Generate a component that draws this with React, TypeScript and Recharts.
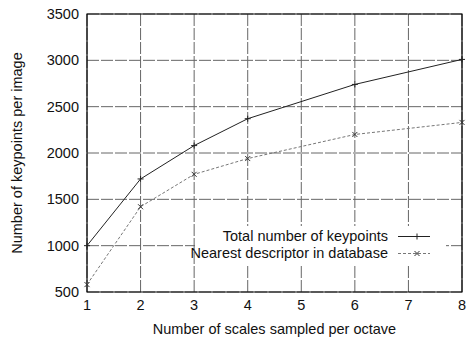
import { CartesianGrid, Label, Legend, Line, LineChart, ReferenceArea, XAxis, YAxis } from "recharts";

const scales = [1, 2, 3, 4, 6, 8];
const totalKeypoints = [1000, 1720, 2080, 2370, 2740, 3010];
const nearestDescriptor = [580, 1420, 1770, 1940, 2200, 2330];
const xTicks = [1, 2, 3, 4, 5, 6, 7, 8];
const yTicks = [500, 1000, 1500, 2000, 2500, 3000, 3500];

const data = scales.map((s, i) => ({
  scale: s,
  total: totalKeypoints[i],
  nearest: nearestDescriptor[i],
}));

const font = "'Liberation Sans', Arial, sans-serif";
const fs = 14.5;

const Plus = (props: any) => {
  const { cx, cy } = props;
  if (cx == null || cy == null) return null;
  return (
    <path
      d={`M${cx - 3},${cy}H${cx + 3}M${cx},${cy - 3}V${cy + 3}`}
      stroke="#222"
      strokeWidth={1}
      fill="none"
    />
  );
};

const Cross = (props: any) => {
  const { cx, cy } = props;
  if (cx == null || cy == null) return null;
  return (
    <path
      d={`M${cx - 2.5},${cy - 2.5}L${cx + 2.5},${cy + 2.5}M${cx - 2.5},${cy + 2.5}L${cx + 2.5},${cy - 2.5}`}
      stroke="#333"
      strokeWidth={1}
      fill="none"
    />
  );
};

const LegendBox = () => (
  <div
    style={{
      background: "#fff",
      fontFamily: font,
      fontSize: fs,
      color: "#111",
      width: 251,
      height: 38,
      position: "relative",
    }}
  >
    {[
      { label: "Total number of keypoints", dash: undefined, color: "#222", marker: "plus" },
      { label: "Nearest descriptor in database", dash: "3 2", color: "#777", marker: "cross" },
    ].map((row, i) => (
      <div
        key={row.label}
        style={{ position: "absolute", top: 2 + i * 17, left: 0, width: 251, height: 17 }}
      >
        <span
          style={{ position: "absolute", right: 58, top: 0, whiteSpace: "nowrap", lineHeight: "17px" }}
        >
          {row.label}
        </span>
        <svg width={34} height={17} style={{ position: "absolute", left: 203, top: 0 }}>
          <line x1={0} x2={32} y1={8.5} y2={8.5} stroke={row.color} strokeDasharray={row.dash} />
          {row.marker === "plus" ? <Plus cx={19} cy={8.5} /> : <Cross cx={19} cy={8.5} />}
        </svg>
      </div>
    ))}
  </div>
);

export default function App() {
  return (
    <div style={{ position: "absolute", left: 0, top: 0, background: "#fff" }}>
      <LineChart width={470} height={340} data={data} margin={{ top: 14, right: 8, bottom: 0, left: 0 }}>
        <CartesianGrid stroke="#666" strokeDasharray="12 2" />
        <XAxis
          dataKey="scale"
          type="number"
          domain={[1, 8]}
          ticks={xTicks}
          height={48}
          axisLine={false}
          tickLine={false}
          tick={{ fill: "#111", fontSize: fs, fontFamily: font }}
        >
          <Label
            value="Number of scales sampled per octave"
            position="insideBottom"
            offset={6}
            style={{ fill: "#111", fontSize: fs, fontFamily: font }}
          />
        </XAxis>
        <YAxis
          type="number"
          domain={[500, 3500]}
          ticks={yTicks}
          width={87}
          axisLine={false}
          tickLine={false}
          tick={{ fill: "#111", fontSize: fs, fontFamily: font }}
        >
          <Label
            value="Number of keypoints per image"
            position="center"
            angle={-90}
            dx={-27}
            style={{ fill: "#111", fontSize: fs, fontFamily: font }}
          />
        </YAxis>
        <ReferenceArea x1={1} x2={8} y1={500} y2={3500} fill="none" stroke="#000" strokeWidth={1.2} ifOverflow="visible" />
        <Legend
          layout="vertical"
          align="center"
          verticalAlign="middle"
          content={<LegendBox />}
          wrapperStyle={{ top: 226, left: 195, width: 251, height: 38 }}
        />
        <Line
          type="linear"
          dataKey="total"
          stroke="#222"
          strokeWidth={1}
          dot={<Plus />}
          activeDot={false}
          isAnimationActive={false}
        />
        <Line
          type="linear"
          dataKey="nearest"
          stroke="#777"
          strokeWidth={1}
          strokeDasharray="3 2"
          dot={<Cross />}
          activeDot={false}
          isAnimationActive={false}
        />
      </LineChart>
    </div>
  );
}
